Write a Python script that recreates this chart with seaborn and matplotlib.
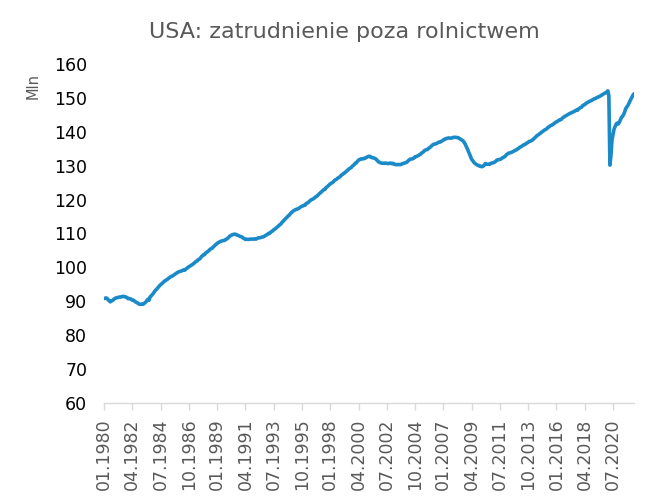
import matplotlib
matplotlib.use("Agg")
import matplotlib.pyplot as plt
import seaborn as sns
import pandas as pd
import numpy as np

# Nonfarm payrolls, millions, monthly, Jan 1980 - Mar 2022
y1980 = [90.80, 90.88, 90.99, 90.85, 90.42, 90.11, 89.84, 90.10, 90.21, 90.49, 90.75, 90.93]
y1981 = [91.03, 91.10, 91.20, 91.26, 91.25, 91.36, 91.46, 91.45, 91.32, 91.26, 91.05, 90.78]
y1982 = [90.82, 90.72, 90.59, 90.31, 90.35, 90.08, 89.84, 89.69, 89.54, 89.26, 89.12, 89.11]
y1983 = [89.19, 89.11, 89.28, 89.55, 89.83, 90.21, 90.61, 90.30, 91.31, 91.59, 91.95, 92.30]
y1984 = [92.74, 93.21, 93.49, 93.86, 94.20, 94.57, 94.89, 95.14, 95.44, 95.72, 96.02, 96.14]
y1985 = [96.43, 96.58, 96.90, 97.08, 97.33, 97.40, 97.62, 97.83, 98.03, 98.24, 98.47, 98.64]
y1986 = [98.77, 98.87, 98.93, 99.12, 99.24, 99.16, 99.48, 99.66, 99.99, 100.18, 100.35, 100.58]
y1987 = [100.76, 101.00, 101.23, 101.54, 101.77, 101.94, 102.27, 102.45, 102.68, 103.18, 103.42, 103.75]
y1988 = [103.76, 104.21, 104.45, 104.69, 104.92, 105.25, 105.48, 105.61, 105.95, 106.21, 106.54, 106.80]
y1989 = [107.06, 107.31, 107.48, 107.63, 107.75, 107.86, 107.90, 107.95, 108.21, 108.35, 108.61, 108.81]
y1990 = [109.21, 109.37, 109.58, 109.65, 109.80, 109.79, 109.74, 109.53, 109.46, 109.29, 109.13, 109.06]
y1991 = [108.94, 108.62, 108.47, 108.25, 108.30, 108.28, 108.26, 108.29, 108.34, 108.37, 108.33, 108.36]
y1992 = [108.41, 108.33, 108.51, 108.65, 108.75, 108.74, 108.84, 108.97, 108.99, 109.17, 109.32, 109.55]
y1993 = [109.76, 110.02, 110.01, 110.31, 110.59, 110.77, 111.10, 111.26, 111.52, 111.78, 112.04, 112.34]
y1994 = [112.62, 112.84, 113.29, 113.63, 113.96, 114.27, 114.60, 114.89, 115.22, 115.46, 115.89, 116.16]
y1995 = [116.48, 116.69, 116.91, 117.08, 117.11, 117.30, 117.43, 117.68, 117.88, 118.03, 118.17, 118.32]
y1996 = [118.35, 118.81, 118.99, 119.17, 119.48, 119.75, 119.97, 120.13, 120.27, 120.54, 120.77, 120.95]
y1997 = [121.26, 121.57, 121.85, 122.13, 122.40, 122.68, 122.97, 123.01, 123.55, 123.77, 124.05, 124.35]
y1998 = [124.64, 124.84, 124.99, 125.26, 125.64, 125.85, 126.01, 126.30, 126.49, 126.66, 126.97, 127.30]
y1999 = [127.47, 127.80, 127.90, 128.27, 128.49, 128.77, 129.08, 129.25, 129.44, 129.84, 130.07, 130.37]
y2000 = [130.78, 130.85, 131.32, 131.62, 131.85, 131.90, 132.07, 132.00, 132.14, 132.14, 132.37, 132.51]
y2001 = [132.69, 132.79, 132.75, 132.46, 132.42, 132.29, 132.24, 132.08, 131.84, 131.48, 131.16, 130.99]
y2002 = [130.85, 130.76, 130.74, 130.72, 130.74, 130.77, 130.67, 130.68, 130.62, 130.74, 130.75, 130.59]
y2003 = [130.69, 130.53, 130.34, 130.32, 130.35, 130.32, 130.36, 130.32, 130.42, 130.63, 130.69, 130.80]
y2004 = [130.94, 131.00, 131.34, 131.59, 131.89, 131.96, 131.99, 132.11, 132.28, 132.63, 132.69, 132.82]
y2005 = [132.97, 133.21, 133.33, 133.69, 133.86, 134.11, 134.45, 134.63, 134.71, 134.83, 135.16, 135.33]
y2006 = [135.61, 135.91, 136.19, 136.36, 136.38, 136.46, 136.66, 136.83, 136.98, 136.97, 137.19, 137.35]
y2007 = [137.60, 137.70, 137.96, 138.00, 138.12, 138.19, 138.16, 138.10, 138.18, 138.26, 138.37, 138.36]
y2008 = [138.39, 138.30, 138.27, 138.07, 137.89, 137.70, 137.51, 137.24, 136.78, 136.31, 135.54, 134.93]
y2009 = [134.14, 133.44, 132.64, 131.87, 131.52, 131.05, 130.71, 130.50, 130.29, 130.08, 130.07, 129.80]
y2010 = [129.79, 129.71, 129.87, 130.12, 130.65, 130.50, 130.44, 130.42, 130.39, 130.64, 130.76, 130.85]
y2011 = [130.89, 131.08, 131.32, 131.63, 131.74, 131.79, 131.86, 131.99, 132.21, 132.44, 132.57, 132.77]
y2012 = [133.16, 133.42, 133.66, 133.74, 133.85, 133.92, 134.07, 134.25, 134.43, 134.56, 134.72, 134.98]
y2013 = [135.17, 135.45, 135.59, 135.77, 136.01, 136.19, 136.27, 136.54, 136.72, 136.92, 137.16, 137.23]
y2014 = [137.41, 137.58, 137.86, 138.17, 138.42, 138.77, 139.00, 139.17, 139.46, 139.65, 139.93, 140.16]
y2015 = [140.35, 140.62, 140.73, 140.99, 141.32, 141.50, 141.75, 141.92, 142.00, 142.28, 142.50, 142.78]
y2016 = [142.92, 143.11, 143.34, 143.53, 143.54, 143.83, 144.17, 144.32, 144.57, 144.73, 144.93, 145.10]
y2017 = [145.27, 145.47, 145.57, 145.76, 145.85, 146.03, 146.24, 146.40, 146.35, 146.74, 146.95, 147.13]
y2018 = [147.28, 147.72, 147.91, 148.00, 148.32, 148.56, 148.67, 148.93, 149.02, 149.19, 149.33, 149.53]
y2019 = [149.75, 149.79, 149.97, 150.18, 150.26, 150.42, 150.59, 150.81, 151.00, 151.18, 151.38, 151.49]
y2020 = [151.79, 152.08, 150.72, 130.16, 133.00, 137.62, 139.15, 140.84, 141.56, 142.30, 142.56, 142.30]
y2021 = [142.82, 143.53, 144.24, 144.51, 145.05, 145.77, 146.77, 147.28, 147.67, 148.34, 148.98, 149.57]
y2022 = [150.09, 150.80, 151.23]

years = [y1980, y1981, y1982, y1983, y1984, y1985, y1986, y1987, y1988, y1989,
         y1990, y1991, y1992, y1993, y1994, y1995, y1996, y1997, y1998, y1999,
         y2000, y2001, y2002, y2003, y2004, y2005, y2006, y2007, y2008, y2009,
         y2010, y2011, y2012, y2013, y2014, y2015, y2016, y2017, y2018, y2019,
         y2020, y2021, y2022]
values = [v for yr in years for v in yr]
dates = pd.date_range("1980-01-01", periods=len(values), freq="MS")
labels = [d.strftime("%m.%Y") for d in dates]

df = pd.DataFrame({"idx": np.arange(len(values)), "value": values, "label": labels})

title = "USA: zatrudnienie poza rolnictwem"
ylabel = "Mln"
yticks = list(range(60, 161, 10))
tick_step = 27

sns.set_theme(style="white")
plt.rcParams["font.family"] = ["DejaVu Sans"]

fig = plt.figure(figsize=(6.55, 5.04), dpi=100)
ax = fig.add_axes([104/655, 1-403/504, (634-104)/655, (403-64)/504])

sns.lineplot(data=df, x="idx", y="value", ax=ax, color="#1A8AC8", linewidth=2.6)

ax.set_xlim(0, len(values) - 1)
ax.set_ylim(60, 160)
ax.set_yticks(yticks)
ax.set_yticklabels([str(t) for t in yticks], fontsize=12.5, color="#000000")
xt = df["idx"].values[::tick_step]
ax.set_xticks(xt)
ax.set_xticklabels(df["label"].values[::tick_step], rotation=90, fontsize=12.5, color="#595959")

for s in ["top", "right", "left"]:
    ax.spines[s].set_visible(False)
ax.spines["bottom"].set_color("#D9D9D9")
ax.spines["bottom"].set_linewidth(1.0)
ax.tick_params(axis="x", which="major", bottom=True, length=5, width=1, color="#D9D9D9", pad=6)
ax.tick_params(axis="y", which="major", left=False, length=0, pad=12)
ax.set_xlabel("")
ax.set_ylabel("")
ax.grid(False)

fig.text(33/655, 1-86/504, ylabel, rotation=90, ha="center", va="center", fontsize=10.5, color="#595959")
fig.text(344/655, 1-32/504, title, ha="center", va="center", fontsize=16, color="#595959")

fig.savefig("out.png", dpi=100)
